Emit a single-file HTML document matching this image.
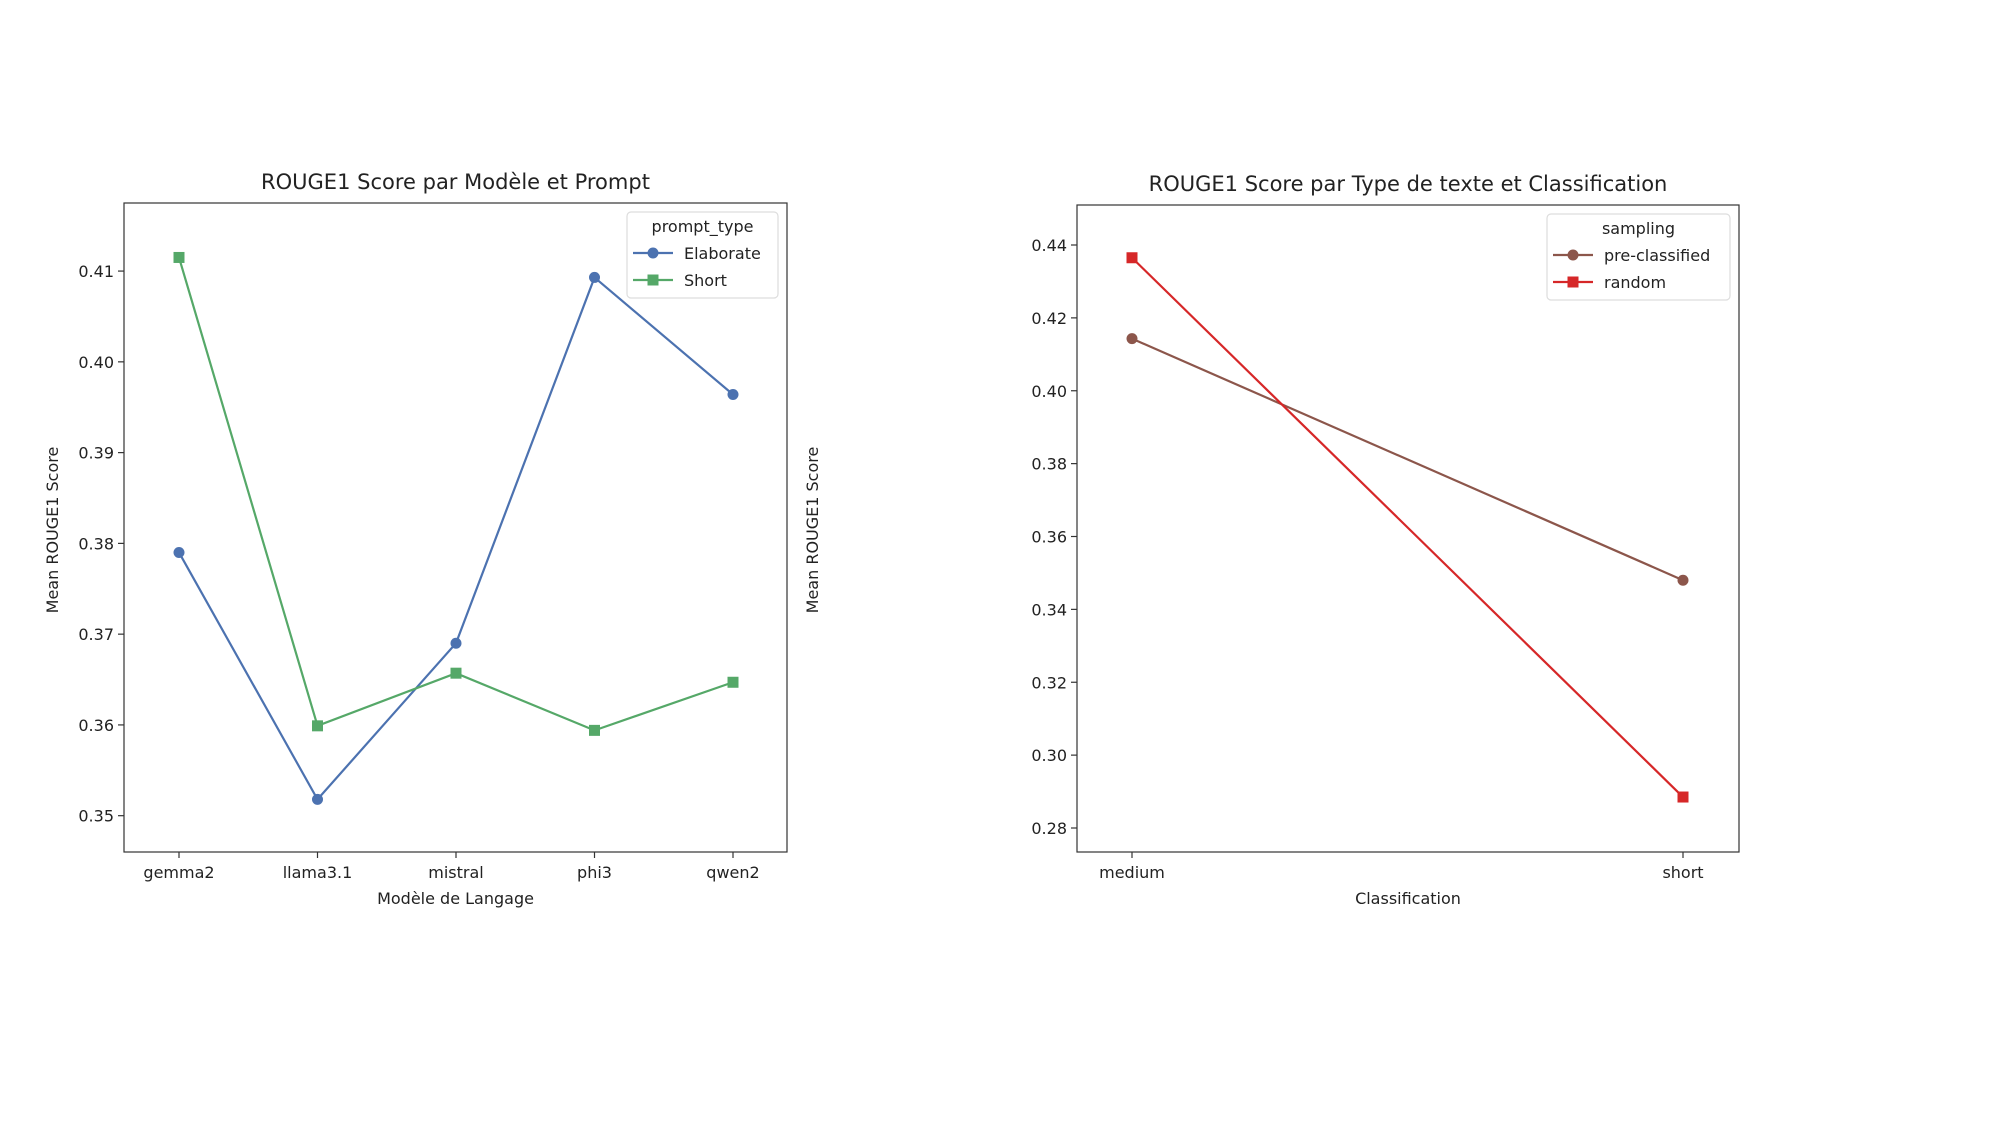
<!DOCTYPE html>
<html><head><meta charset="utf-8"><style>
body{margin:0;background:#fff;}
svg{display:block;font-family:"DejaVu Sans","Liberation Sans",sans-serif;}
</style></head><body>
<svg id="c" width="2000" height="1125"></svg>
<script>
const catsL = ["gemma2","llama3.1","mistral","phi3","qwen2"];
const elaborate = [0.379,0.3518,0.369,0.4093,0.3964];
const shortP = [0.4115,0.3599,0.3657,0.3594,0.3647];
const ticksL = [0.35,0.36,0.37,0.38,0.39,0.40,0.41];
const catsR = ["medium","short"];
const preClassified = [0.4143,0.348];
const randomS = [0.4365,0.2885];
const ticksR = [0.28,0.30,0.32,0.34,0.36,0.38,0.40,0.42,0.44];

const NS="http://www.w3.org/2000/svg";
const svg=document.getElementById('c');
function el(tag,attrs,parent,text){const e=document.createElementNS(NS,tag);for(const k in attrs)e.setAttribute(k,attrs[k]);if(text!==undefined)e.textContent=text;(parent||svg).appendChild(e);return e;}

function panel(o){
  const g=el('g',{});
  
  
  const y=v=>o.y1-(v-o.ymin)/(o.ymax-o.ymin)*(o.y1-o.y0);
  const x=i=>o.cx0+i*(o.cx1-o.cx0)/(o.cats.length-1);
  const t=el('text',{x:(o.x0+o.x1)/2,y:o.y0-14,'text-anchor':'middle','font-size':21,fill:'#222'},g,o.title);
  
  o.ticks.forEach(v=>{
    el('line',{x1:o.x0-6,x2:o.x0,y1:y(v),y2:y(v),stroke:'#333','stroke-width':1.2},g);
    const tl=el('text',{x:o.x0-10,y:y(v)+6,'text-anchor':'end','font-size':16,fill:'#222'},g,v.toFixed(2));
    
  });
  o.cats.forEach((c,i)=>{
    el('line',{x1:x(i),x2:x(i),y1:o.y1,y2:o.y1+6,stroke:'#333','stroke-width':1.2},g);
    const tl=el('text',{x:x(i),y:o.y1+26,'text-anchor':'middle','font-size':16,fill:'#222'},g,c);
    
  });
  const xl=el('text',{x:(o.x0+o.x1)/2,y:o.y1+52,'text-anchor':'middle','font-size':16,fill:'#222'},g,o.xlabel);
  
  o.series.forEach(s=>{
    const pts=s.vals.map((v,i)=>x(i)+','+y(v)).join(' ');
    const pl=el('polyline',{points:pts,fill:'none',stroke:s.color,'stroke-width':2.2},g);
    
    s.vals.forEach((v,i)=>{
      let m;
      if(s.marker==='o') m=el('circle',{cx:x(i),cy:y(v),r:5.5,fill:s.color},g);
      else m=el('rect',{x:x(i)-5.5,y:y(v)-5.5,width:11,height:11,fill:s.color},g);
      
    });
  });
  el('rect',{x:o.x0,y:o.y0,width:o.x1-o.x0,height:o.y1-o.y0,fill:'none',stroke:'#333','stroke-width':1.2},g);
  const L=o.leg;
  const lg=el('g',{},g);
  
  el('rect',{x:L.x,y:L.y,width:L.w,height:86,rx:4,fill:'#fff',stroke:'#ddd','stroke-width':1.2},lg);
  el('text',{x:L.x+L.w/2,y:L.y+20,'text-anchor':'middle','font-size':16,fill:'#222'},lg,L.title);
  o.series.forEach((s,k)=>{
    const yy=L.y+47+k*27;
    el('line',{x1:L.x+6,x2:L.x+46,y1:yy-6,y2:yy-6,stroke:s.color,'stroke-width':2.2},lg);
    if(s.marker==='o') el('circle',{cx:L.x+26,cy:yy-6,r:5.5,fill:s.color},lg);
    else el('rect',{x:L.x+20.5,y:yy-11.5,width:11,height:11,fill:s.color},lg);
    const lt=el('text',{x:L.x+57,y:yy,'font-size':16,fill:'#222'},lg,s.label);
    
  });
  return g;
}

panel({name:'left-chart',title:'ROUGE1 Score par Modèle et Prompt',xlabel:'Modèle de Langage',
  x0:124,x1:787,y0:203,y1:852,cx0:179,cx1:733,ymin:0.346,ymax:0.4175,cats:catsL,ticks:ticksL,
  series:[{label:'Elaborate',vals:elaborate,color:'#4c72b0',marker:'o'},{label:'Short',vals:shortP,color:'#55a868',marker:'s'}],
  leg:{x:627,y:212,w:151,title:'prompt_type'}});
panel({name:'right-chart',title:'ROUGE1 Score par Type de texte et Classification',xlabel:'Classification',
  x0:1077,x1:1739,y0:205,y1:852,cx0:1132,cx1:1683,ymin:0.28-(852-828)/(583/8)*0.02,ymax:0.44+(245-205)/(583/8)*0.02,cats:catsR,ticks:ticksR,
  series:[{label:'pre-classified',vals:preClassified,color:'#8c564b',marker:'o'},{label:'random',vals:randomS,color:'#d62728',marker:'s'}],
  leg:{x:1547,y:214,w:183,title:'sampling'}});

const yl1=el('text',{transform:'translate(58,530) rotate(-90)','text-anchor':'middle','font-size':16,fill:'#222'},svg,'Mean ROUGE1 Score');

const yl2=el('text',{transform:'translate(818,530) rotate(-90)','text-anchor':'middle','font-size':16,fill:'#222'},svg,'Mean ROUGE1 Score');

</script>
</body></html>
